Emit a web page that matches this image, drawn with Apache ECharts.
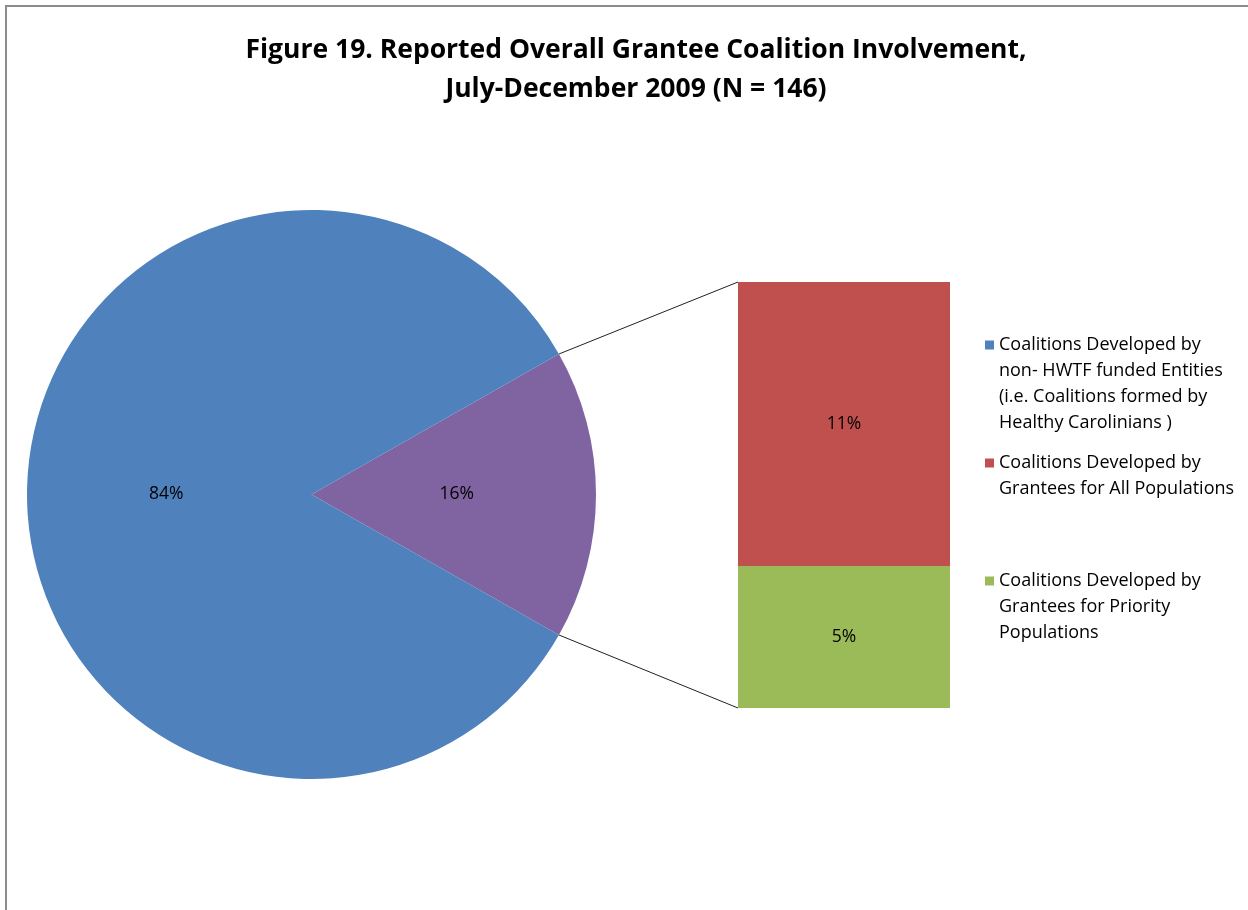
<!DOCTYPE html>
<html>
<head>
<meta charset="utf-8">
<script src="https://cdn.jsdelivr.net/npm/echarts@6/dist/echarts.min.js"></script>
<style>
  html, body { margin: 0; padding: 0; background: #fff; }
  #chart { width: 1248px; height: 910px; }
</style>
</head>
<body>
<div id="chart"></div>
<script>
// Coalition counts, July-December 2009 (N = 146)
const TOTAL = 146;
const pieNames = ['Coalitions Developed by\nnon- HWTF funded Entities\n(i.e. Coalitions formed by\nHealthy Carolinians )', 'Grantee coalitions'];
const pieCounts = [122, 24];
const barNames = ['Coalitions Developed by\nGrantees for All Populations', 'Coalitions Developed by\nGrantees for Priority\nPopulations'];
const barCounts = [16, 8];

const COLORS = { blue: '#4F81BD', purple: '#8064A2', red: '#C0504D', green: '#9BBB59' };
const FONT = '"Open Sans", "Noto Sans", sans-serif';

const pct = v => Math.round(v / TOTAL * 100) + '%';

// The grantee slice is centred on the 3 o'clock direction, facing the bar.
const granteeSweep = pieCounts[1] / TOTAL * 360;
const startAngle = granteeSweep / 2;

const PIE_CENTER = [311.5, 494.5];
const PIE_R = 284.5;
const LEGEND_LH = 26;

// One legend block per entry. The marker is centred on the text block, so blank
// lines are prepended to keep it level with the first line of the entry.
function legendBlock(name, firstLineCenter) {
  const lines = name.split('\n').length;
  return {
    orient: 'vertical',
    left: 985,
    top: firstLineCenter - (2 * lines - 1) * LEGEND_LH / 2,
    padding: 0,
    itemWidth: 9,
    itemHeight: 9,
    itemGap: 0,
    icon: 'rect',
    selectedMode: false,
    data: [name],
    formatter: n => '\n'.repeat(lines - 1) + n,
    textStyle: { fontFamily: FONT, fontSize: 18, color: '#000', lineHeight: LEGEND_LH }
  };
}

const labelStyle = { fontFamily: FONT, fontSize: 17.5, color: '#000' };

const chart = echarts.init(document.getElementById('chart'));

chart.setOption({
  animation: false,
  backgroundColor: '#fff',
  title: {
    text: 'Figure 19. Reported Overall Grantee Coalition Involvement,\nJuly-December 2009 (N = 146)',
    left: 631,
    textAlign: 'center',
    top: 26,
    textStyle: { fontFamily: FONT, fontSize: 26.5, fontWeight: 'bold', color: '#000', lineHeight: 39 }
  },
  legend: [
    legendBlock(pieNames[0], 345),
    legendBlock(barNames[0], 463),
    legendBlock(barNames[1], 581)
  ],
  grid: { left: 738, top: 282, width: 212, height: 426 },
  xAxis: { type: 'category', data: ['Grantees'], show: false },
  yAxis: { type: 'value', min: 0, max: barCounts[0] + barCounts[1], show: false },
  series: [
    {
      type: 'pie',
      center: PIE_CENTER,
      radius: [0, PIE_R],
      startAngle: startAngle,
      clockwise: true,
      silent: true,
      data: [
        { name: pieNames[1], value: pieCounts[1], itemStyle: { color: COLORS.purple } },
        { name: pieNames[0], value: pieCounts[0], itemStyle: { color: COLORS.blue } }
      ],
      itemStyle: { borderWidth: 0 },
      label: Object.assign({ position: 'inside', formatter: p => pct(p.value) }, labelStyle),
      labelLine: { show: false }
    },
    {
      type: 'bar',
      name: barNames[1],
      stack: 'grantees',
      barWidth: '100%',
      data: [barCounts[1]],
      itemStyle: { color: COLORS.green },
      label: Object.assign({ show: true, position: 'inside', formatter: p => pct(p.value) }, labelStyle)
    },
    {
      type: 'bar',
      name: barNames[0],
      stack: 'grantees',
      barWidth: '100%',
      data: [barCounts[0]],
      itemStyle: { color: COLORS.red },
      label: Object.assign({ show: true, position: 'inside', formatter: p => pct(p.value) }, labelStyle)
    }
  ]
});

// Connector lines from the grantee slice edge to the corners of the stacked bar,
// plus the outer frame of the chart area.
function drawOverlay() {
  const half = granteeSweep / 2 * Math.PI / 180;
  const sx = PIE_CENTER[0] + PIE_R * Math.cos(half);
  const syTop = PIE_CENTER[1] - PIE_R * Math.sin(half);
  const syBot = PIE_CENTER[1] + PIE_R * Math.sin(half);
  const total = barCounts[0] + barCounts[1];
  const topPt = chart.convertToPixel({ gridIndex: 0 }, ['Grantees', total]);
  const botPt = chart.convertToPixel({ gridIndex: 0 }, ['Grantees', 0]);
  const bandW = chart.getModel().getComponent('grid', 0).coordinateSystem.getAxis('x').getBandWidth();
  const barLeft = topPt[0] - bandW / 2;
  chart.setOption({
    graphic: [
      { type: 'line', shape: { x1: sx, y1: syTop, x2: barLeft, y2: topPt[1] }, style: { stroke: '#222', lineWidth: 1 }, z: 10 },
      { type: 'line', shape: { x1: sx, y1: syBot, x2: barLeft, y2: botPt[1] }, style: { stroke: '#222', lineWidth: 1 }, z: 10 },
      { type: 'rect', shape: { x: 6, y: 6, width: 1400, height: 1200 }, style: { fill: 'none', stroke: '#8c8c8c', lineWidth: 2 }, z: 10 }
    ]
  });
}
drawOverlay();
</script>
</body>
</html>
